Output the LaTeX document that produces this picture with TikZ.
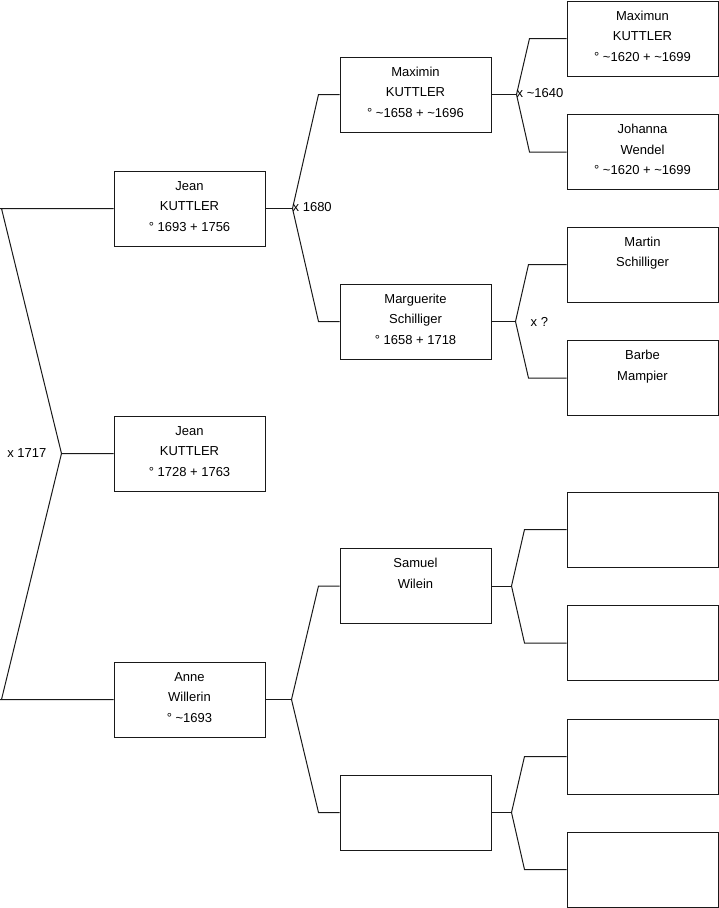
\documentclass[tikz,border=0pt]{standalone}
\usepackage{fontspec}
\setmainfont{Liberation Sans}
\usepackage{tikz}
\usetikzlibrary{positioning,calc}
\tikzset{
  person/.style={draw=black!90, line width=1pt, minimum width=151pt,
                 minimum height=75pt, inner sep=0pt, fill=white,
                 font=\fontsize{13}{20.5}\selectfont},
  link/.style={draw=black!90, line width=1pt},
  wed/.style={inner sep=0pt, font=\fontsize{13}{15}\selectfont},
}
\newcommand{\who}[1]{\parbox[c][65pt][t]{148pt}{\centering\strut #1}}

\begin{document}
\begin{tikzpicture}[x=1pt, y=-1pt]
  \useasboundingbox (0,0) rectangle (719,908);

  % Generation 1
  \node[person] (j1) at (189.5,208.5) {\who{Jean\\KUTTLER\\° 1693 + 1756}};
  \node[person] (j2) at (189.5,453.5) {\who{Jean\\KUTTLER\\° 1728 + 1763}};
  \node[person] (an) at (189.5,699.5) {\who{Anne\\Willerin\\° \textasciitilde1693}};

  % Generation 2
  \node[person] (mx) at (415.5,94.5)  {\who{Maximin\\KUTTLER\\° \textasciitilde1658 + \textasciitilde1696}};
  \node[person] (mg) at (415.5,321.5) {\who{Marguerite\\Schilliger\\° 1658 + 1718}};
  \node[person] (sw) at (415.5,586)   {\who{Samuel\\Wilein}};
  \node[person] (ex) at (415.5,812.5) {};

  % Generation 3
  \node[person] (mu) at (642.5,38.5)  {\who{Maximun\\KUTTLER\\° \textasciitilde1620 + \textasciitilde1699}};
  \node[person] (jw) at (642.5,152)   {\who{Johanna\\Wendel\\° \textasciitilde1620 + \textasciitilde1699}};
  \node[person] (ms) at (642.5,264.5) {\who{Martin\\Schilliger}};
  \node[person] (bm) at (642.5,378)   {\who{Barbe\\Mampier}};
  \node[person] (e1) at (642.5,529.5) {};
  \node[person] (e2) at (642.5,643)   {};
  \node[person] (e3) at (642.5,756.5) {};
  \node[person] (e4) at (642.5,869.5) {};

  % child to parents
  \coordinate (root) at ([xshift=-52pt]j2.west);
  \draw[link] (j2.west) -- (root) -- ([xshift=-112pt]j1.west) -- ([xshift=-114pt]j1.west)
              ([xshift=-112pt]j1.west) -- (j1.west);
  \draw[link] (root) -- ([xshift=-112pt]an.west) -- ([xshift=-114pt]an.west)
              ([xshift=-112pt]an.west) -- (an.west);

  \foreach \p/\d/\a/\b/\e in {j1/27/mx/mg/21, an/26/sw/ex/21,
                             mx/25/mu/jw/37, mg/24/ms/bm/38,
                             sw/20/e1/e2/42, ex/20/e3/e4/42} {
    \draw[link] (\p.east) -- ++(\d,0) coordinate (v-\p);
    \draw[link] (v-\p) -- ([xshift=-\e pt]\a.west) -- (\a.west);
    \draw[link] (v-\p) -- ([xshift=-\e pt]\b.west) -- (\b.west);
  }

  % marriages
  \node[wed, left=15pt of root] (w1) {x 1717};
  \node[wed, right=0pt of v-j1, yshift=1.5pt] (w2) {x 1680};
  \node[wed, right=0pt of v-mx, yshift=1pt] (w3) {x \textasciitilde1640};
  \node[wed, right=15pt of v-mg] (w4) {x ?};
\end{tikzpicture}
\end{document}
